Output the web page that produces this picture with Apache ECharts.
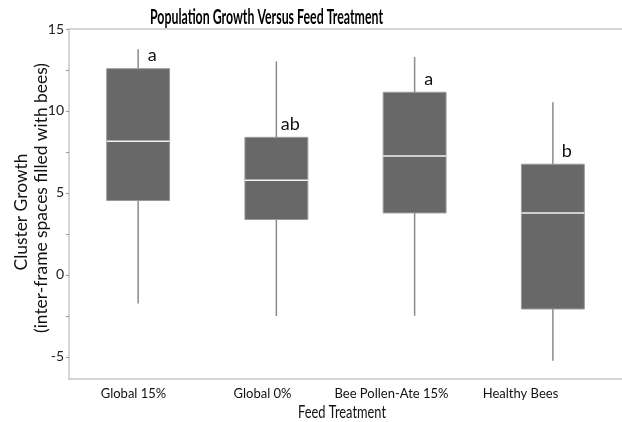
<!DOCTYPE html>
<html><head><meta charset="utf-8">
<script src="https://cdn.jsdelivr.net/npm/echarts@6/dist/echarts.min.js"></script>
<style>html,body{margin:0;padding:0;background:#fff;overflow:hidden}#c{width:622px;height:422px}</style>
</head><body><div id="c"></div>
<script>
const categories = ['Global 15%', 'Global 0%', 'Bee Pollen-Ate 15%', 'Healthy Bees'];
const whiskerLow = [-1.74, -2.51, -2.49, -5.23];
const q1 = [4.54, 3.38, 3.78, -2.08];
const median = [8.15, 5.78, 7.26, 3.78];
const q3 = [12.58, 8.39, 11.14, 6.75];
const whiskerHigh = [13.76, 13.02, 13.29, 10.53];
const letters = ['a', 'ab', 'a', 'b'];
const yLabelValues = [-5, 0, 5, 10, 15];
const yTickValues = [-5, -2.5, 0, 2.5, 5, 7.5, 10, 12.5, 15];

const FONT = 'Lato, "Open Sans", sans-serif';
const data = categories.map((c, i) => [i, whiskerLow[i], q1[i], median[i], q3[i], whiskerHigh[i]]);

const mctx = document.createElement('canvas').getContext('2d');
function fit(text, font, w) { mctx.font = font; return w / mctx.measureText(text).width; }

function renderItem(params, api) {
  const x = api.value(0);
  const lo = api.coord([x, api.value(1)]);
  const a = api.coord([x, api.value(2)]);
  const m = api.coord([x, api.value(3)]);
  const b = api.coord([x, api.value(4)]);
  const hi = api.coord([x, api.value(5)]);
  const bw = api.size([1, 0])[0] * 0.455;
  const cx = m[0];
  const wstyle = { stroke: '#8a8a8a', lineWidth: 1.5 };
  return {
    type: 'group',
    children: [
      { type: 'line', shape: { x1: cx, y1: hi[1], x2: cx, y2: b[1] }, style: wstyle },
      { type: 'line', shape: { x1: cx, y1: a[1], x2: cx, y2: lo[1] }, style: wstyle },
      { type: 'rect', shape: { x: cx - bw / 2, y: b[1], width: bw, height: a[1] - b[1] },
        style: { fill: '#686868', stroke: '#9a9a9a', lineWidth: 1 } },
      { type: 'line', shape: { x1: cx - bw / 2, y1: m[1], x2: cx + bw / 2, y2: m[1] },
        style: { stroke: '#f2f2f2', lineWidth: 1.5 } },
      { type: 'text', style: { text: letters[params.dataIndex], x: cx + 14, y: b[1] - 13,
        align: 'center', verticalAlign: 'middle', font: '18px ' + FONT, fill: '#111' } }
    ]
  };
}

const titleText = 'Population Growth Versus Feed Treatment';
const titleFont = 'bold 21px ' + FONT;
const yName1 = 'Cluster Growth';
const yName2 = '(inter-frame spaces filled with bees)';
const xName = 'Feed Treatment';
const nameFont = '18px ' + FONT;
const yNameScale = fit(yName2, nameFont, 270);

const chart = echarts.init(document.getElementById('c'));
chart.setOption({
  animation: false,
  grid: [
    { left: 69, right: -3, top: 29, bottom: 43 },
    { left: 69, right: 37, top: 29, bottom: 43 }
  ],
  xAxis: [{
    type: 'category', data: categories, gridIndex: 0,
    axisLine: { onZero: false, lineStyle: { color: '#c8c8c8', width: 1.5 } },
    axisTick: { show: false },
    axisLabel: { show: false }
  }, {
    type: 'category', data: categories, position: 'top', gridIndex: 0,
    axisLine: { onZero: false, lineStyle: { color: '#c8c8c8', width: 1.5 } },
    axisTick: { show: false }, axisLabel: { show: false }
  }, {
    type: 'category', data: categories, gridIndex: 1,
    axisLine: { show: false }, axisTick: { show: false },
    axisLabel: { interval: 0, color: '#111', fontFamily: FONT, fontSize: 13, margin: 8 }
  }],
  yAxis: [{
    type: 'value', min: -6.35, max: 15, gridIndex: 0,
    axisLine: { show: true, lineStyle: { color: '#c8c8c8', width: 1.5 } },
    axisTick: { show: true, length: 3, customValues: yTickValues, lineStyle: { color: '#999' } },
    axisLabel: { customValues: yLabelValues, color: '#222', fontFamily: FONT, fontSize: 14, margin: 5 },
    splitLine: { show: false }
  }, {
    type: 'value', min: -6.35, max: 15, gridIndex: 1, show: false
  }],
  graphic: [
    { type: 'text', x: 266.5, y: 17, scaleX: fit(titleText, titleFont, 233),
      style: { text: titleText, align: 'center', verticalAlign: 'middle', font: titleFont, fill: '#000' } },
    { type: 'text', x: 21, y: 212, rotation: Math.PI / 2, scaleX: yNameScale,
      style: { text: yName1, align: 'center', verticalAlign: 'middle', font: nameFont, fill: '#111' } },
    { type: 'text', x: 41, y: 198, rotation: Math.PI / 2, scaleX: yNameScale,
      style: { text: yName2, align: 'center', verticalAlign: 'middle', font: nameFont, fill: '#111' } },
    { type: 'text', x: 342, y: 412, scaleX: fit(xName, nameFont, 88),
      style: { text: xName, align: 'center', verticalAlign: 'middle', font: nameFont, fill: '#111' } }
  ],
  series: [{
    type: 'custom', renderItem: renderItem, data: data,
    xAxisIndex: 0, yAxisIndex: 0,
    encode: { x: 0, y: [1, 2, 3, 4, 5] }
  }]
});
</script></body></html>
